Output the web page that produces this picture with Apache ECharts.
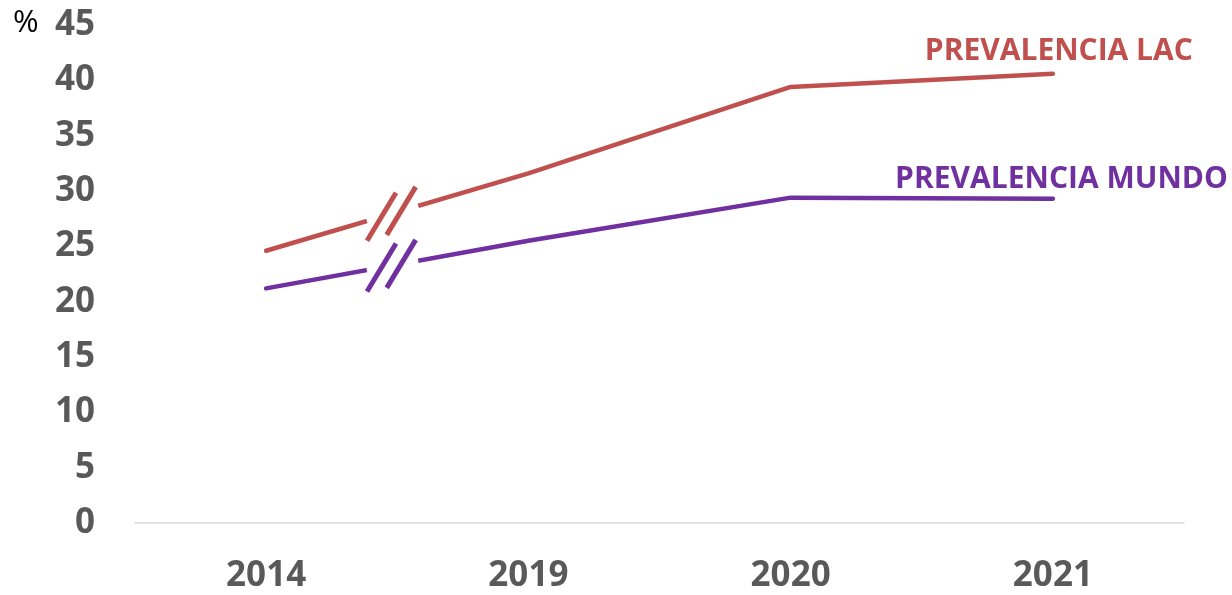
<!DOCTYPE html>
<html>
<head>
<meta charset="utf-8">
<script src="https://cdn.jsdelivr.net/npm/echarts@6/dist/echarts.min.js"></script>
<style>
  html, body { margin: 0; padding: 0; background: #fff; }
  #chart { width: 1232px; height: 595px; }
</style>
</head>
<body>
<div id="chart"></div>
<script>
// Years on the horizontal axis
const categories = ['2014', '2019', '2020', '2021'];
// Prevalence (%) for Latin America & Caribbean and for the world
const lacValues = [24.6, 31.6, 39.4, 40.6];
const mundoValues = [21.2, 25.5, 29.4, 29.3];
// Series names shown as end labels
const lacName = 'PREVALENCIA LAC';
const mundoName = 'PREVALENCIA MUNDO';
// Vertical axis range
const yMin = 0, yMax = 45, yStep = 5;

const RED = '#C0504D';
const PURPLE = '#7030A0';
const FONT = '"Open Sans", "Noto Sans", sans-serif';

// Axis-break marker on the first segment: white gap plus two slanted strokes
function breakRenderer(color) {
  return function (params, api) {
    const p0 = api.coord([0, api.value(1)]);
    const p1 = api.coord([1, api.value(2)]);
    const at = t => [p0[0] + (p1[0] - p0[0]) * t, p0[1] + (p1[1] - p0[1]) * t];
    const g0 = at(0.384), g1 = at(0.58);
    const children = [{
      type: 'line',
      shape: { x1: g0[0], y1: g0[1], x2: g1[0], y2: g1[1] },
      style: { stroke: '#ffffff', lineWidth: 10, lineCap: 'butt' }
    }];
    [0.44, 0.515].forEach(t => {
      const c = at(t);
      children.push({
        type: 'line',
        shape: { x1: c[0] - 14.5, y1: c[1] + 24, x2: c[0] + 14.5, y2: c[1] - 24 },
        style: { stroke: color, lineWidth: 5, lineCap: 'butt' }
      });
    });
    return { type: 'group', children: children };
  };
}

const chart = echarts.init(document.getElementById('chart'));
chart.setOption({
  animation: false,
  backgroundColor: '#ffffff',
  grid: { left: 135, right: 48, top: 25, bottom: 72 },
  graphic: [{
    type: 'text',
    left: 13, top: 8,
    style: { text: '%', font: '31px ' + FONT, fill: '#000000' }
  }],
  xAxis: {
    type: 'category',
    data: categories,
    boundaryGap: true,
    axisLine: { show: true, lineStyle: { color: '#D9D9D9', width: 1.5 } },
    axisTick: { show: false },
    axisLabel: { color: '#595959', fontFamily: FONT, fontWeight: 'bold', fontSize: 35, margin: 36 },
    splitLine: { show: false }
  },
  yAxis: {
    type: 'value',
    min: yMin, max: yMax, interval: yStep,
    axisLine: { show: false },
    axisTick: { show: false },
    splitLine: { show: false },
    axisLabel: { color: '#595959', fontFamily: FONT, fontWeight: 'bold', fontSize: 35, margin: 40 }
  },
  series: [
    {
      name: lacName,
      type: 'line',
      data: lacValues,
      symbol: 'none',
      lineStyle: { color: RED, width: 4.5, cap: 'round', join: 'round' },
      endLabel: {
        show: true, formatter: lacName, distance: 0, align: 'right', verticalAlign: 'middle',
        offset: [140, -22], color: RED, fontFamily: FONT, fontWeight: 'bold', fontSize: 30
      }
    },
    {
      name: mundoName,
      type: 'line',
      data: mundoValues,
      symbol: 'none',
      lineStyle: { color: PURPLE, width: 4.5, cap: 'round', join: 'round' },
      endLabel: {
        show: true, formatter: mundoName, distance: 0, align: 'right', verticalAlign: 'middle',
        offset: [175, -19], color: PURPLE, fontFamily: FONT, fontWeight: 'bold', fontSize: 30
      }
    },
    {
      type: 'custom',
      z: 5, clip: false, silent: true,
      renderItem: breakRenderer(RED),
      data: [[0, lacValues[0], lacValues[1]]]
    },
    {
      type: 'custom',
      z: 5, clip: false, silent: true,
      renderItem: breakRenderer(PURPLE),
      data: [[0, mundoValues[0], mundoValues[1]]]
    }
  ]
});
</script>
</body>
</html>
